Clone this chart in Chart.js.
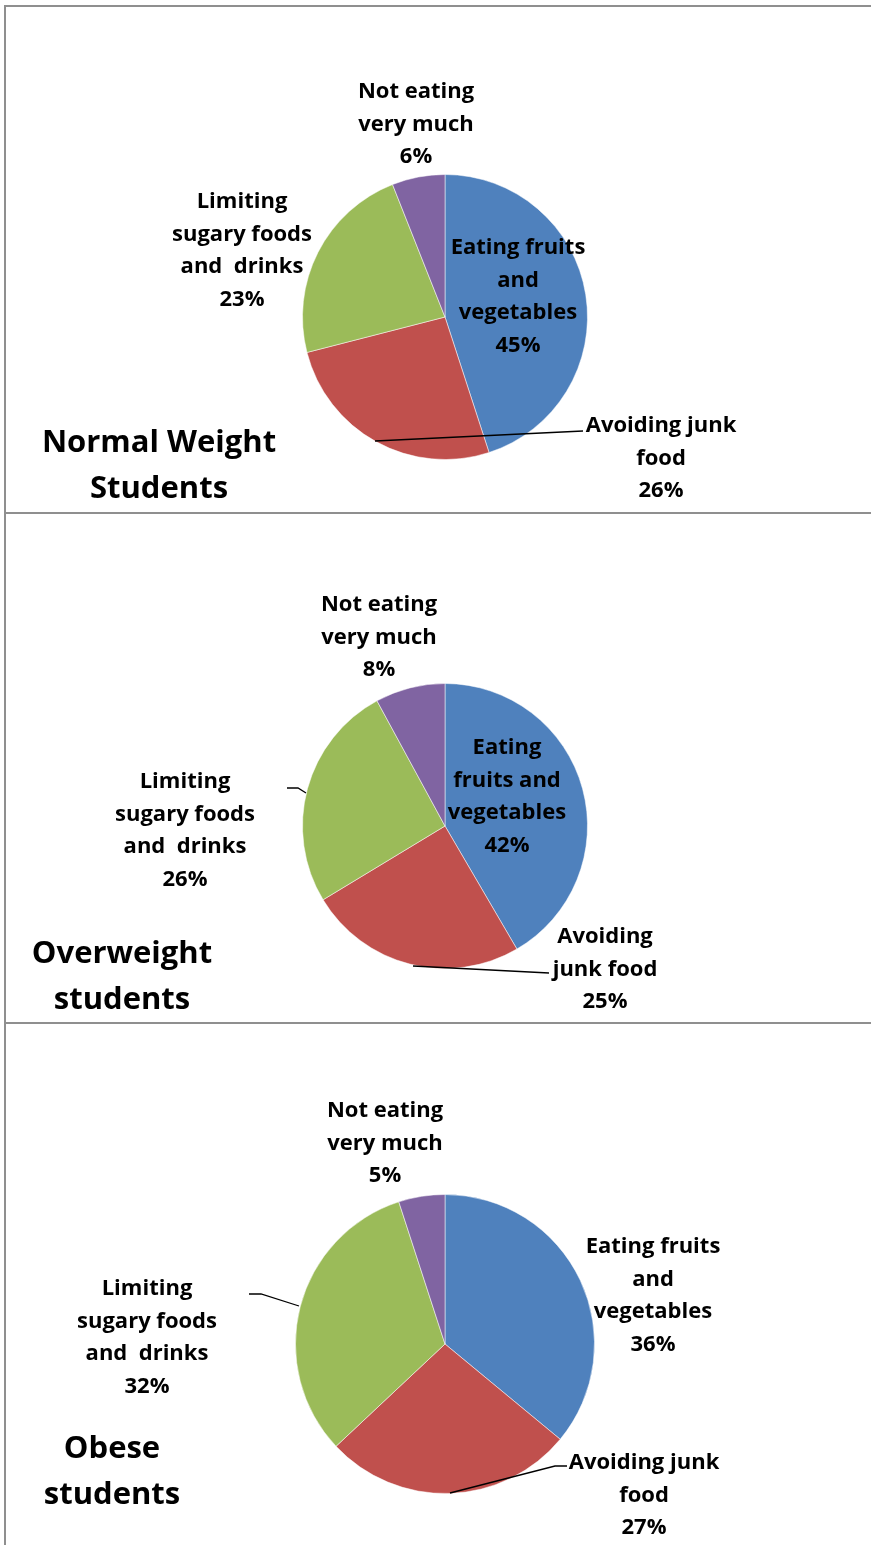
<!DOCTYPE html>
<html><head><meta charset="utf-8">
<script src="https://cdn.jsdelivr.net/npm/chart.js@4"></script>
<style>
html,body{margin:0;padding:0;background:#fff;}
#wrap{position:relative;width:871px;height:1545px;overflow:hidden;}
canvas{position:absolute;left:0;}
.hl{position:absolute;height:2px;background:#8f8f8f;}
.vl{position:absolute;width:2px;background:#8f8f8f;}
</style></head>
<body>
<div id="wrap">
  <div class="hl" style="left:4px;top:5px;width:867px;"></div>
  <div class="hl" style="left:4px;top:512px;width:867px;"></div>
  <div class="hl" style="left:4px;top:1022px;width:867px;"></div>
  <div class="vl" style="left:4px;top:5px;height:1540px;"></div>
  <canvas id="c1" width="871" height="513" style="top:0px"></canvas>
  <canvas id="c2" width="871" height="510" style="top:513px"></canvas>
  <canvas id="c3" width="871" height="522" style="top:1023px"></canvas>
</div>
<script>
// ---- data ----
const categories = ["Eating fruits and vegetables", "Avoiding junk food", "Limiting sugary foods and drinks", "Not eating very much"];
const normalWeight = [45, 26, 23, 6];
const overweight = [42, 25, 26, 8];
const obese = [36, 27, 32, 5];
const titles = [["Normal Weight", "Students"], ["Overweight", "students"], ["Obese", "students"]];
const colors = ["#4F81BD", "#C0504D", "#9BBB59", "#8064A2"];

// label text lines (category wrapping as in the reference), per chart
const wrap1 = [["Eating fruits", "and", "vegetables"], ["Avoiding junk", "food"], ["Limiting", "sugary foods", "and  drinks"], ["Not eating", "very much"]];
const wrap2 = [["Eating", "fruits and", "vegetables"], ["Avoiding", "junk food"], ["Limiting", "sugary foods", "and  drinks"], ["Not eating", "very much"]];
const wrap3 = [["Eating fruits", "and", "vegetables"], ["Avoiding junk", "food"], ["Limiting", "sugary foods", "and  drinks"], ["Not eating", "very much"]];

// ---- layout (page coords) ----
const layouts = [
  { top: 0, pad: {left: 302, right: 283, top: 174, bottom: 53}, wrap: wrap1, data: normalWeight, title: titles[0],
    titlePos: [159, 443],
    labels: [[518, 248], [661, 426], [242, 202], [416, 92]],
    leaders: [null, [[375, 441], [583, 431]], null, null] },
  { top: 513, pad: {left: 302, right: 283, top: 170, bottom: 54}, wrap: wrap2, data: overweight, title: titles[1],
    titlePos: [122, 954],
    labels: [[507, 748], [605, 937], [185, 782], [379, 605]],
    leaders: [null, [[413, 966], [549, 973]], [[287, 788], [298, 788], [306, 793]], null] },
  { top: 1023, pad: {left: 295, right: 276, top: 171, bottom: 51}, wrap: wrap3, data: obese, title: titles[2],
    titlePos: [112, 1449],
    labels: [[653, 1247], [644, 1463], [147, 1289], [385, 1111]],
    leaders: [null, [[450, 1493], [555, 1466], [567, 1466]], [[249, 1294], [261, 1294], [299, 1306]], null] }
];

const FONT = "bold 22px 'Open Sans', sans-serif";
const TFONT = "bold 31px 'Open Sans', sans-serif";
const LH = 32.5;

const labelPlugin = {
  id: 'xlLabels',
  afterDraw(chart) {
    const L = chart.options.plugins.xlLabels.layout;
    const ctx = chart.ctx;
    const off = L.top;
    ctx.save();
    ctx.strokeStyle = "#000";
    ctx.lineWidth = 1.3;
    L.leaders.forEach(pts => {
      if (!pts) return;
      ctx.beginPath();
      pts.forEach((p, i) => { if (i === 0) ctx.moveTo(p[0], p[1] - off); else ctx.lineTo(p[0], p[1] - off); });
      ctx.stroke();
    });
    ctx.fillStyle = "#000";
    ctx.textAlign = "center";
    ctx.textBaseline = "middle";
    ctx.font = FONT;
    const ds = chart.data.datasets[0].data;
    ds.forEach((v, i) => {
      const lines = L.wrap[i].concat([v + "%"]);
      const [x, y] = L.labels[i];
      lines.forEach((t, k) => ctx.fillText(t, x, y - off + k * LH));
    });
    ctx.font = TFONT;
    ctx.fillText(L.title[0], L.titlePos[0], L.titlePos[1] - off);
    ctx.fillText(L.title[1], L.titlePos[0], L.titlePos[1] - off + 46);
    ctx.restore();
  }
};

["c1", "c2", "c3"].forEach((id, n) => {
  const L = layouts[n];
  new Chart(document.getElementById(id), {
    type: 'pie',
    data: {
      labels: categories,
      datasets: [{ data: L.data, backgroundColor: colors, borderColor: "rgba(255,255,255,0.5)", borderWidth: 1, hoverOffset: 0 }]
    },
    options: {
      responsive: false,
      animation: false,
      devicePixelRatio: 1,
      layout: { padding: L.pad },
      plugins: { legend: { display: false }, tooltip: { enabled: false }, xlLabels: { layout: L } },
      events: []
    },
    plugins: [labelPlugin]
  });
});
</script>
</body></html>
